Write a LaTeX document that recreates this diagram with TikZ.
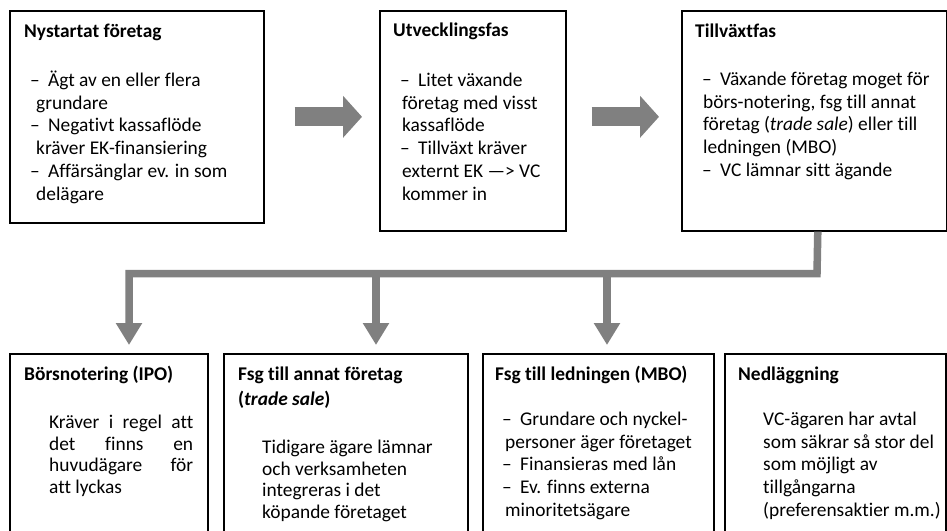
\documentclass[tikz,border=0pt]{standalone}
\usepackage{fontspec}
\setmainfont{Carlito}[Ligatures={TeX,NoCommon}]
\usepackage{tikz}
\usetikzlibrary{arrows.meta}

\newcommand{\bodysize}{\fontsize{19.4}{22.8}\selectfont}
\newcommand{\tightsize}{\fontsize{19.4}{21.8}\selectfont}
\newcommand{\topstrut}{\rule{0pt}{17pt}}
\newcommand{\itm}{\makebox[18pt][l]{–}}
\newcommand{\just}[1]{\makebox[144pt][s]{#1}}

\begin{document}
\begin{tikzpicture}[x=1pt, y=-1pt,
  box/.style={draw, line width=1.6pt, anchor=north west, inner sep=0pt},
  txt/.style={anchor=north west, inner sep=0pt, align=left, font=\bodysize},
  head/.style={txt, font=\bodysize\bfseries},
  fat arrow/.style={draw=gray, line width=19pt, -{Triangle[length=19pt, width=41pt]}},
  bus line/.style={draw=gray, line width=7.5pt, -{Triangle[length=22pt, width=25pt]}}]
  \useasboundingbox (0,0) rectangle (947,530);
  \clip (0,0) rectangle (947,530);

  % Top row: the three phases
  \node[box, minimum width=254pt, minimum height=212pt] (nystartat) at (9,10) {};
  \node[box, minimum width=186pt, minimum height=220pt] (utveckling) at (379,10) {};
  \node[box, minimum width=265pt, minimum height=220pt] (tillvaxt) at (681,10) {};

  \node[head] (nystartat-t) at (24,20) {\topstrut Nystartat företag};
  \node[txt] (nystartat-b) at (30,69) {\topstrut\itm Ägt av en eller flera\\
    \hspace*{6pt}grundare\\
    \itm Negativt kassaflöde\\
    \hspace*{6pt}kräver EK-finansiering\\
    \itm Affärsänglar ev. in som\\
    \hspace*{6pt}delägare};

  \node[head] (utveckling-t) at (393,19) {\topstrut Utvecklingsfas};
  \node[txt] (utveckling-b) at (400,69) {\topstrut\itm Litet växande\\
    \hspace*{2pt}företag med visst\\
    \hspace*{2pt}kassaflöde\\
    \itm Tillväxt kräver\\
    \hspace*{2pt}externt EK —> VC\\
    \hspace*{2pt}kommer in};

  \node[head] (tillvaxt-t) at (695,20) {\topstrut Tillväxtfas};
  \node[txt] (tillvaxt-b) at (702,68) {\topstrut\itm Växande företag moget för\\
    \hspace*{1pt}börs-notering, fsg till annat\\
    \hspace*{1pt}företag (\textit{trade sale}) eller till\\
    \hspace*{1pt}ledningen (MBO)\\
    \itm VC lämnar sitt ägande};

  % Block arrows between the phases
  \draw[fat arrow] ([xshift=30pt]nystartat.east) -- ([xshift=-17pt]utveckling.west |- nystartat.east);
  \draw[fat arrow] ([xshift=25pt]utveckling.east |- nystartat.east) -- ([xshift=-22pt]tillvaxt.west |- nystartat.east);

  % Bottom row: the ways out
  \node[box, minimum width=198pt, minimum height=200pt] (ipo) at (9,353) {};
  \node[box, minimum width=244pt, minimum height=200pt] (tradesale) at (223,353) {};
  \node[box, minimum width=231pt, minimum height=200pt] (mbo) at (482,353) {};
  \node[box, minimum width=221pt, minimum height=200pt] (nedlaggning) at (724,353) {};

  \node[head] (ipo-t) at (24,363) {\topstrut Börsnotering (IPO)};
  \node[txt, font=\tightsize] (ipo-b) at (49,411) {\topstrut\just{Kräver i regel att}\\
    \just{det finns en}\\
    \just{huvudägare för}\\
    att lyckas};

  \node[head] (tradesale-t) at (238,363) {\topstrut Fsg till annat företag\\[2pt]
    (\textit{trade sale})};
  \node[txt, font=\tightsize] (tradesale-b) at (262,436) {\topstrut Tidigare ägare lämnar\\
    och verksamheten\\
    integreras i det\\
    köpande företaget};

  \node[head] (mbo-t) at (495,363) {\topstrut Fsg till ledningen (MBO)};
  \node[txt] (mbo-b) at (502,408) {\topstrut\itm Grundare och nyckel-\\
    \hspace*{3pt}personer äger företaget\\
    \itm Finansieras med lån\\
    \itm Ev. finns externa\\
    \hspace*{3pt}minoritetsägare};

  \node[head] (nedlaggning-t) at (738,363) {\topstrut Nedläggning};
  \node[txt] (nedlaggning-b) at (763,408) {\topstrut VC-ägaren har avtal\\
    som säkrar så stor del\\
    som möjligt av\\
    tillgångarna\\
    (preferensaktier m.m.)};

  % Split from the growth phase down to the exits
  \coordinate (bus) at (817,273.5);
  \draw[bus line] ([xshift=3.5pt]tillvaxt.south) -- (bus) -- (bus -| 129,0) -- ([yshift=8pt]ipo.north -| 129,0);
  \draw[bus line] (bus -| 376,0) -- ([yshift=8pt]tradesale.north -| 376,0);
  \draw[bus line] (bus -| 607,0) -- ([yshift=8pt]mbo.north -| 607,0);
\end{tikzpicture}
\end{document}
